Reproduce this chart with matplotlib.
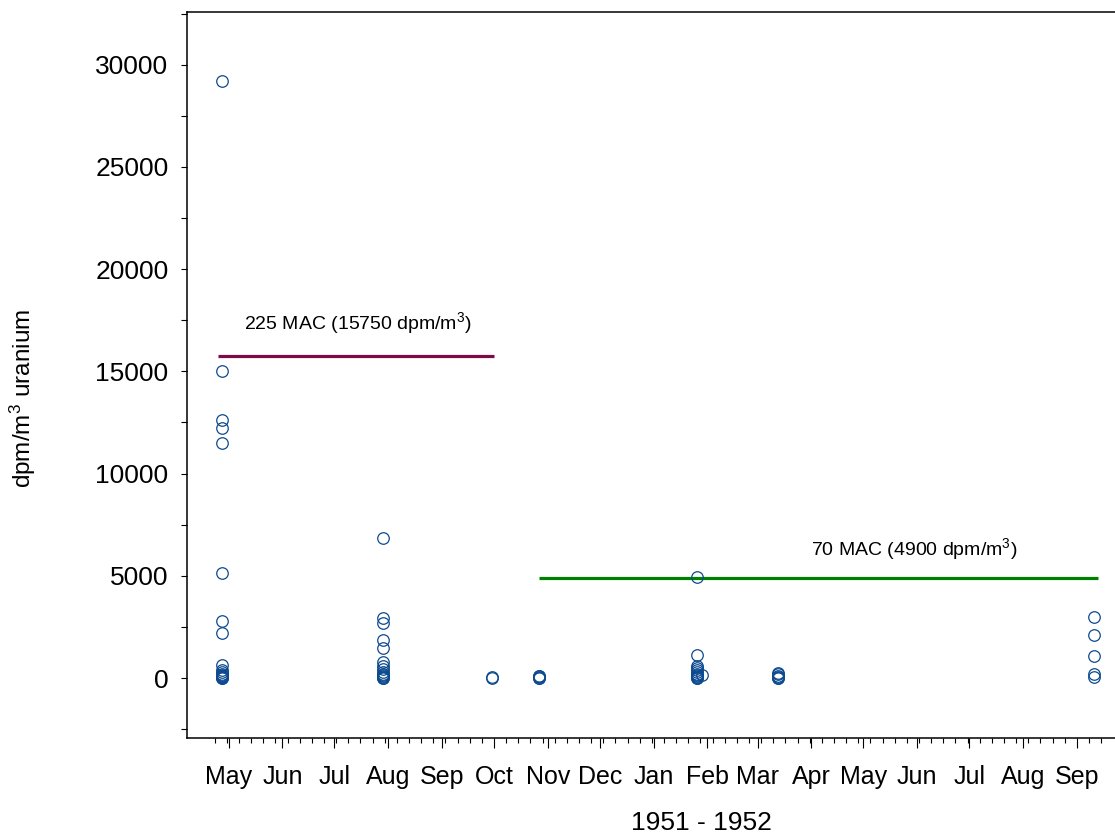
import datetime as dt
import pandas as pd
import matplotlib
matplotlib.use("Agg")
import matplotlib.pyplot as plt
import matplotlib.dates as mdates
from matplotlib import font_manager

plt.rcParams['font.family'] = ['Liberation Sans', 'DejaVu Sans']
plt.rcParams['mathtext.fontset'] = 'custom'
plt.rcParams['mathtext.rm'] = 'Liberation Sans'
plt.rcParams['mathtext.it'] = 'Liberation Sans:italic'

# sampling dates and uranium air concentrations (dpm/m3)
d = dt.date
apr51_dates = [d(1951, 4, 27)] * 19
apr51_vals = [29200, 15000, 12600, 12250, 11500, 5150, 2800, 2200, 650,
              400, 300, 200, 150, 100, 80, 50, 30, 20, 10]
jul51_dates = [d(1951, 7, 29)] * 15
jul51_vals = [6850, 2950, 2700, 1850, 1450, 800, 600, 450, 300, 200, 150,
              100, 50, 20, 0]
sep51_dates = [d(1951, 9, 30)] * 2
sep51_vals = [30, 0]
oct51_dates = [d(1951, 10, 27)] * 5
oct51_vals = [120, 80, 50, 20, 0]
jan52_dates = [d(1952, 1, 26)] * 12 + [d(1952, 1, 29)]
jan52_vals = [4925, 1150, 580, 480, 380, 300, 220, 150, 100, 60, 20, 0, 150]
mar52_dates = [d(1952, 3, 13)] * 6
mar52_vals = [250, 180, 120, 60, 20, 0]
sep52_dates = [d(1952, 9, 11)] * 5
sep52_vals = [3000, 2100, 1100, 220, 50]

# maximum allowable concentration levels
mac_high = 15750
mac_high_span = [d(1951, 4, 25), d(1951, 10, 1)]
mac_low = 4900
mac_low_span = [d(1951, 10, 27), d(1952, 9, 13)]


def main():
    # the month labels in the original use a condensed face
    installed = {f.name for f in font_manager.fontManager.ttflist}
    if 'Liberation Sans Narrow' in installed:
        narrow, narrow_size = 'Liberation Sans Narrow', 20.5
    else:
        narrow, narrow_size = 'Liberation Sans', 18

    fig = plt.figure(figsize=(11.15, 8.34), dpi=100)
    ax = fig.add_axes([0.1677, 0.1151, 0.8323, 0.8705])

    dates = (apr51_dates + jul51_dates + sep51_dates + oct51_dates
             + jan52_dates + mar52_dates + sep52_dates)
    vals = (apr51_vals + jul51_vals + sep51_vals + oct51_vals
            + jan52_vals + mar52_vals + sep52_vals)

    ax.plot(mac_high_span, [mac_high] * 2, color='#7d0b45', lw=2.3,
            solid_capstyle='butt')
    ax.plot(mac_low_span, [mac_low] * 2, color='#008000', lw=2.3,
            solid_capstyle='butt')
    ax.plot(dates, vals, 'o', ms=8.3, mfc='none', mec='#0d4a8f', mew=0.9)

    ax.text(d(1951, 5, 10), 17370, '225 MAC (15750 dpm/m$^3$)',
            fontsize=14, va='center')
    ax.text(d(1952, 4, 1), 6310, '70 MAC (4900 dpm/m$^3$)',
            fontsize=14, va='center')

    ax.set_xlim(dt.date(1951, 4, 7), dt.date(1952, 9, 23))
    ax.set_ylim(-2935, 32580)

    ax.xaxis.set_major_locator(mdates.MonthLocator())
    ax.xaxis.set_major_formatter(mdates.DateFormatter('%b'))
    weeks = pd.date_range('1951-04-23', '1952-09-15', freq='W-MON')
    ax.set_xticks(weeks, minor=True)
    ax.set_yticks(range(0, 30001, 5000))
    ax.set_yticks(range(-2500, 32501, 2500), minor=True)

    ax.tick_params(axis='x', which='major', length=7.2, width=0.8, pad=12.5)
    ax.tick_params(axis='x', which='minor', length=3.6, width=0.8)
    ax.tick_params(axis='y', which='both', length=4.3, width=0.8,
                   labelsize=19, pad=9)
    for lab in ax.get_xticklabels():
        lab.set_family([narrow, 'DejaVu Sans'])
        lab.set_fontsize(narrow_size)

    for side in ['left', 'bottom', 'top']:
        ax.spines[side].set_linewidth(1.1)
    ax.spines['right'].set_visible(False)

    ax.set_xlabel('1951 - 1952', family=[narrow, 'DejaVu Sans'],
                  fontsize=narrow_size + 1)
    ax.xaxis.set_label_coords(0.554, -0.1)
    ax.set_ylabel('dpm/m$^3$ uranium', fontsize=17.5)
    ax.yaxis.set_label_coords(-0.161, 0.468)

    fig.savefig('out.png', dpi=100)
    plt.close(fig)


if __name__ == "__main__":
    main()
